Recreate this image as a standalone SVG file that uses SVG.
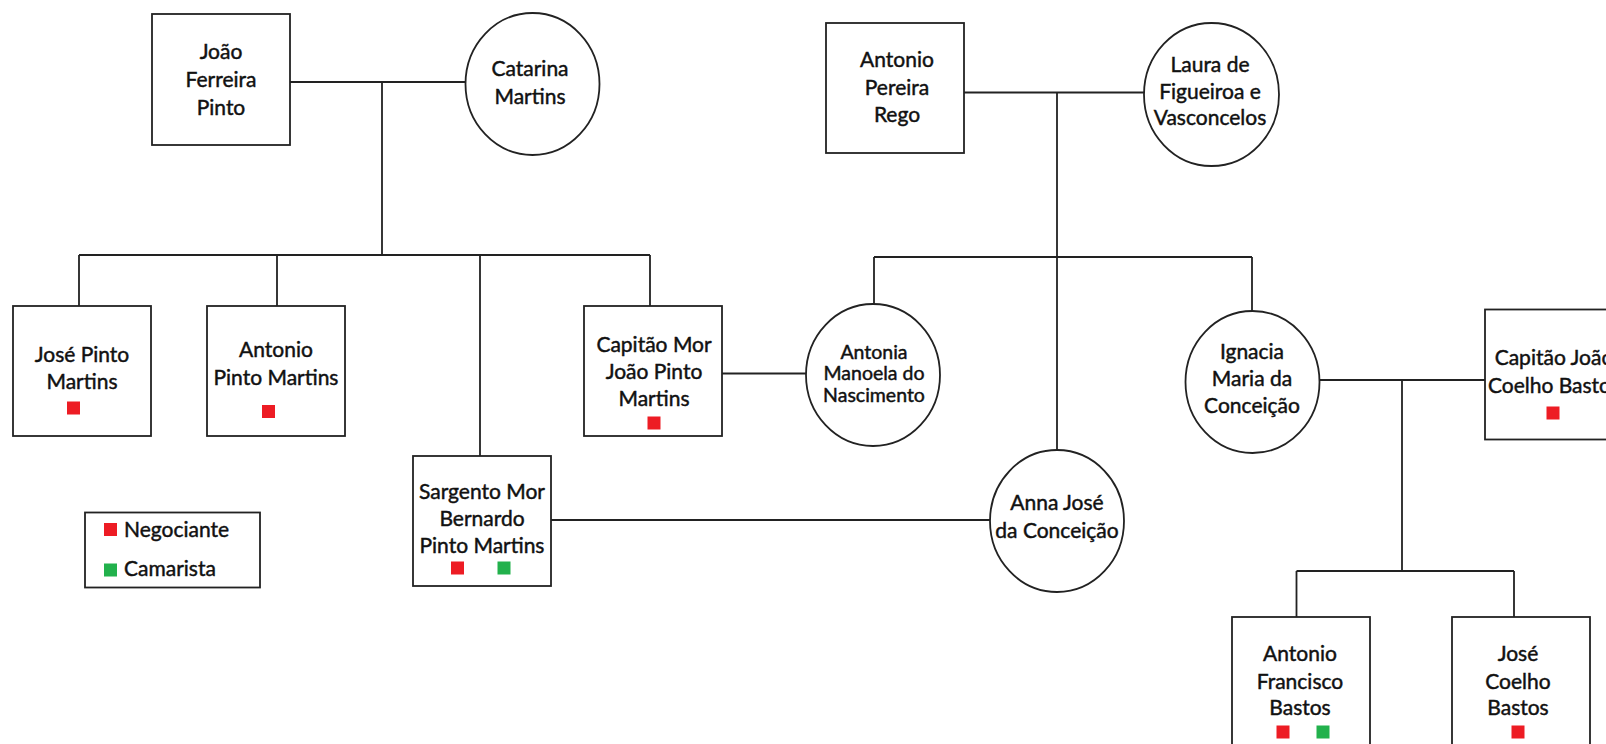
<svg xmlns="http://www.w3.org/2000/svg" width="1606" height="744" viewBox="0 0 1606 744">
<style>
.b{fill:#fff;stroke:#222;stroke-width:1.8}
.c{fill:none;stroke:#222;stroke-width:1.8}
text{font-family:Lato,"Open Sans",sans-serif;font-size:21px;fill:#111;stroke:#111;stroke-width:0.45;text-anchor:middle}
.s{font-size:19.5px}
.l{text-anchor:start}
.r{fill:#ED1C24}
.g{fill:#22B14C}
</style>
<rect width="1606" height="744" fill="#fff"/>
<g id="connectors" class="c">
<path d="M290,82 H466 M382,82 V255"/>
<path d="M79,255 H650 M79,255 V306 M277,255 V306 M480,255 V456 M650,255 V306"/>
<path d="M722,373.5 H806"/>
<path d="M964,92.5 H1144 M1057,92.5 V450"/>
<path d="M874,257 H1252 M874,257 V304 M1252,257 V311"/>
<path d="M551,520 H990.5"/>
<path d="M1319.5,380 H1485 M1402,380 V571"/>
<path d="M1296.5,571 H1514 M1296.5,571 V617 M1514,571 V617"/>
</g>
<g id="joao-ferreira-pinto">
<rect class="b" x="152" y="14" width="138" height="131"/>
<text x="221" y="59">João</text><text x="221" y="87">Ferreira</text><text x="221" y="115">Pinto</text>
</g>
<g id="catarina-martins">
<ellipse class="b" cx="532.5" cy="84" rx="67" ry="71"/>
<text x="530" y="76">Catarina</text><text x="530" y="104">Martins</text>
</g>
<g id="antonio-pereira-rego">
<rect class="b" x="826" y="23" width="138" height="130"/>
<text x="897" y="67">Antonio</text><text x="897" y="95">Pereira</text><text x="897" y="122">Rego</text>
</g>
<g id="laura-de-figueiroa">
<ellipse class="b" cx="1211.5" cy="94.5" rx="67.5" ry="71.5"/>
<text x="1210" y="72">Laura de</text><text x="1210" y="99">Figueiroa e</text><text x="1210" y="125">Vasconcelos</text>
</g>
<g id="jose-pinto-martins">
<rect class="b" x="13" y="306" width="138" height="130"/>
<text x="82" y="362">José Pinto</text><text x="82" y="389">Martins</text>
<rect class="r" x="67" y="401.5" width="13" height="13"/>
</g>
<g id="antonio-pinto-martins">
<rect class="b" x="207" y="306" width="138" height="130"/>
<text x="276" y="357">Antonio</text><text x="276" y="385">Pinto Martins</text>
<rect class="r" x="262" y="405" width="13" height="13"/>
</g>
<g id="capitao-mor-joao-pinto-martins">
<rect class="b" x="584" y="306" width="138" height="130"/>
<text x="654" y="352">Capitão Mor</text><text x="654" y="379">João Pinto</text><text x="654" y="406">Martins</text>
<rect class="r" x="647.5" y="416.5" width="13" height="13"/>
</g>
<g id="sargento-mor-bernardo-pinto-martins">
<rect class="b" x="413" y="456" width="138" height="130"/>
<text x="482" y="499">Sargento Mor</text><text x="482" y="526">Bernardo</text><text x="482" y="553">Pinto Martins</text>
<rect class="r" x="451" y="561.5" width="13" height="13"/>
<rect class="g" x="497.5" y="561.5" width="13" height="13"/>
</g>
<g id="antonia-manoela-do-nascimento">
<ellipse class="b" cx="873" cy="375" rx="67" ry="71"/>
<text class="s" x="874" y="358.5">Antonia</text><text class="s" x="874" y="380">Manoela do</text><text class="s" x="874" y="401.5">Nascimento</text>
</g>
<g id="ignacia-maria-da-conceicao">
<ellipse class="b" cx="1252.5" cy="382" rx="67" ry="71"/>
<text x="1252" y="359">Ignacia</text><text x="1252" y="386">Maria da</text><text x="1252" y="413">Conceição</text>
</g>
<g id="anna-jose-da-conceicao">
<ellipse class="b" cx="1057" cy="521" rx="67" ry="71"/>
<text x="1057" y="510">Anna José</text><text x="1057" y="538">da Conceição</text>
</g>
<g id="capitao-joao-coelho-bastos">
<rect class="b" x="1485" y="309.5" width="138" height="130"/>
<text x="1554" y="365">Capitão João</text><text x="1554" y="393">Coelho Bastos</text>
<rect class="r" x="1546.5" y="406.5" width="13" height="13"/>
</g>
<g id="antonio-francisco-bastos">
<rect class="b" x="1232" y="617" width="138" height="130"/>
<text x="1300" y="661">Antonio</text><text x="1300" y="689">Francisco</text><text x="1300" y="715">Bastos</text>
<rect class="r" x="1276.5" y="725.5" width="13" height="13"/>
<rect class="g" x="1316.5" y="725.5" width="13" height="13"/>
</g>
<g id="jose-coelho-bastos">
<rect class="b" x="1452" y="617" width="138" height="130"/>
<text x="1518" y="661">José</text><text x="1518" y="689">Coelho</text><text x="1518" y="715">Bastos</text>
<rect class="r" x="1511.5" y="725.5" width="13" height="13"/>
</g>
<g id="legend">
<rect class="b" x="85" y="512.5" width="175" height="75"/>
<rect class="r" x="104" y="523" width="13" height="13"/>
<text class="l" x="124" y="537">Negociante</text>
<rect class="g" x="104" y="563.5" width="13" height="13"/>
<text class="l" x="124" y="576">Camarista</text>
</g>
</svg>
